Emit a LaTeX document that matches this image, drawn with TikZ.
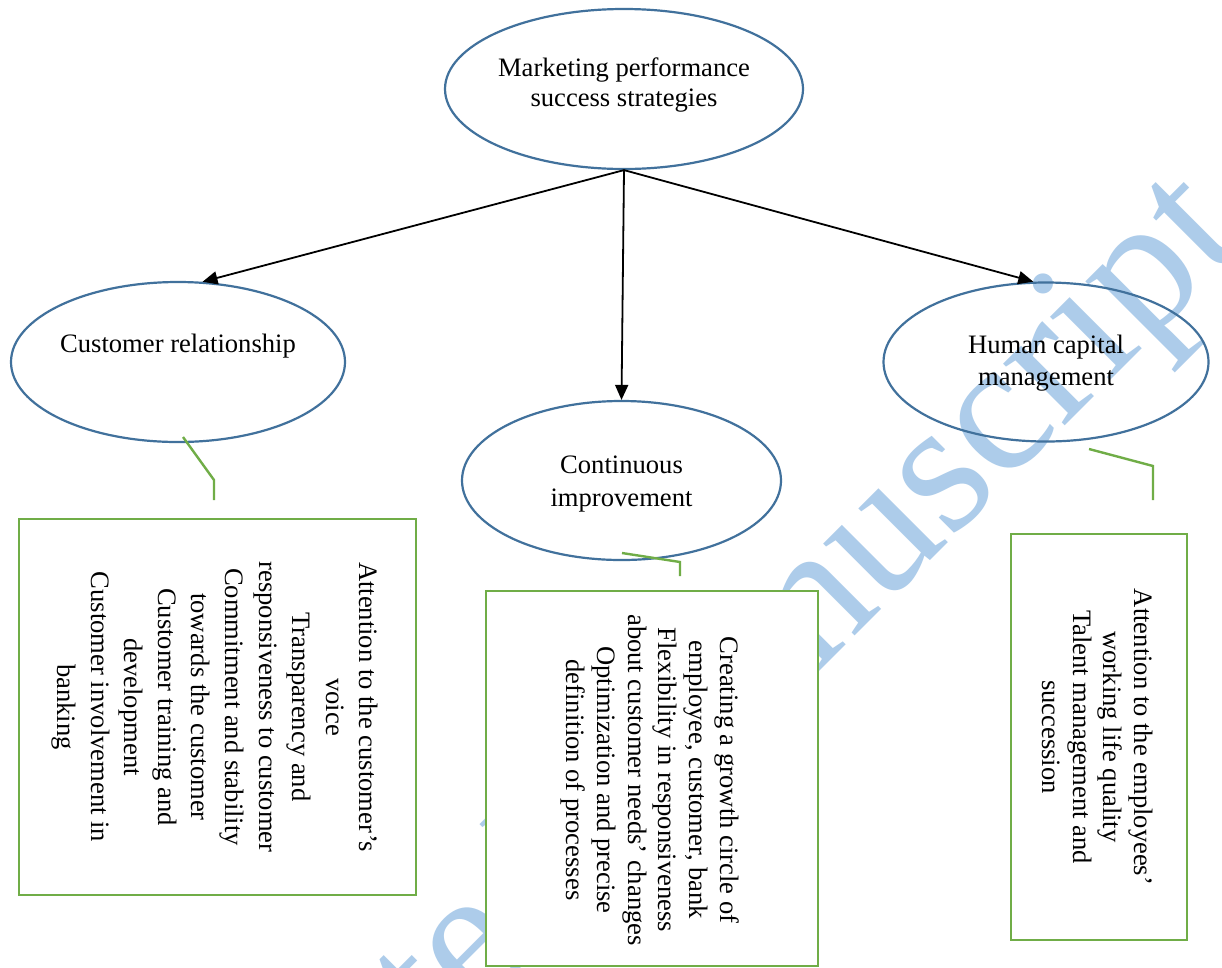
\documentclass[tikz,border=0pt]{standalone}
\usepackage{fontspec}
\setmainfont{Liberation Serif}
\usetikzlibrary{shapes.geometric,arrows.meta,calc}
\definecolor{ellblue}{RGB}{65,113,156}
\definecolor{boxgreen}{RGB}{112,173,71}
\definecolor{wmblue}{RGB}{173,204,234}
\begin{document}
\begin{tikzpicture}[x=1pt,y=1pt,
  ell/.style={ellipse, draw=ellblue, line width=2.2pt, inner sep=0pt},
  txt/.style={align=center, inner sep=0pt, font=\fontsize{26.6}{32.6}\selectfont},
  gbox/.style={rectangle, draw=boxgreen, line width=2.4pt, fill=white, inner sep=0pt},
  btxt/.style={align=center, inner sep=0pt, rotate=-90},
  arr/.style={-{Triangle[length=15pt,width=13pt]}, line width=1.8pt, black},
  gline/.style={draw=boxgreen, line width=2.4pt}
]
\useasboundingbox (0,0) rectangle (1222,-967);
\clip (0,0) rectangle (1222,-967);
\fill[white] (0,0) rectangle (1222,-967);

% watermark
\node[text=wmblue, font=\fontsize{190}{190}\selectfont, rotate=45, anchor=base east, inner sep=0pt] (wm) at (1249,-241.5) {Accepted Manuscript};

% ellipses
\node[ell, minimum width=358pt, minimum height=160pt] (top) at (624,-89) {};
\node[ell, minimum width=334pt, minimum height=160pt] (cr) at (178,-362) {};
\node[ell, minimum width=319pt, minimum height=159pt] (ci) at (621.5,-480.5) {};
\node[ell, minimum width=325pt, minimum height=159pt] (hc) at (1046,-362) {};

\node[txt, font=\fontsize{26.6}{30.5}\selectfont] (toptxt) at (624,-85) {Marketing performance\\success strategies};
\node[txt] (crtxt) at (178,-346) {Customer relationship};
\node[txt] (citxt) at (621.5,-484) {Continuous\\improvement};
\node[txt] (hctxt) at (1046,-363) {Human capital\\management};

% arrows
\draw[arr] (top.south) -- (cr.73);
\draw[arr] (top.south) -- (ci.north);
\draw[arr] (top.south) -- (hc.99);

% green callout lines
\coordinate (g1a) at (183,-437);
\coordinate (g1b) at (214,-480);
\coordinate (g1c) at (214,-500);
\coordinate (g2a) at (622,-553);
\coordinate (g2b) at (680,-562);
\coordinate (g2c) at (680,-576);
\coordinate (g3a) at (1089,-449);
\coordinate (g3b) at (1153,-466);
\coordinate (g3c) at (1153,-500);
\draw[gline] (g1a) -- (g1b) -- (g1c);
\draw[gline] (g2a) -- (g2b) -- (g2c);
\draw[gline] (g3a) -- (g3b) -- (g3c);

% boxes
\node[gbox, minimum width=397pt, minimum height=376pt] (b1) at (217.5,-707) {};
\node[gbox, minimum width=332pt, minimum height=375pt] (b2) at (652,-778.5) {};
\node[gbox, minimum width=176pt, minimum height=406pt] (b3) at (1099,-737) {};

\node[btxt, font=\fontsize{26.6}{33.6}\selectfont] (t1) at (215,-707) {Attention to the customer’s\\voice\\Transparency and\\responsiveness to customer\\Commitment and stability\\towards the customer\\Customer training and\\development\\Customer involvement in\\banking};
\node[btxt, font=\fontsize{26.6}{30.8}\selectfont] (t2) at (650,-780) {Creating a growth circle of\\employee, customer, bank\\Flexibility in responsiveness\\about customer needs’ changes\\Optimization and precise\\definition of processes};
\node[btxt, font=\fontsize{26.6}{30.5}\selectfont] (t3) at (1097.5,-737) {Attention to the employees’\\working life quality\\Talent management and\\succession};
\end{tikzpicture}
\end{document}
